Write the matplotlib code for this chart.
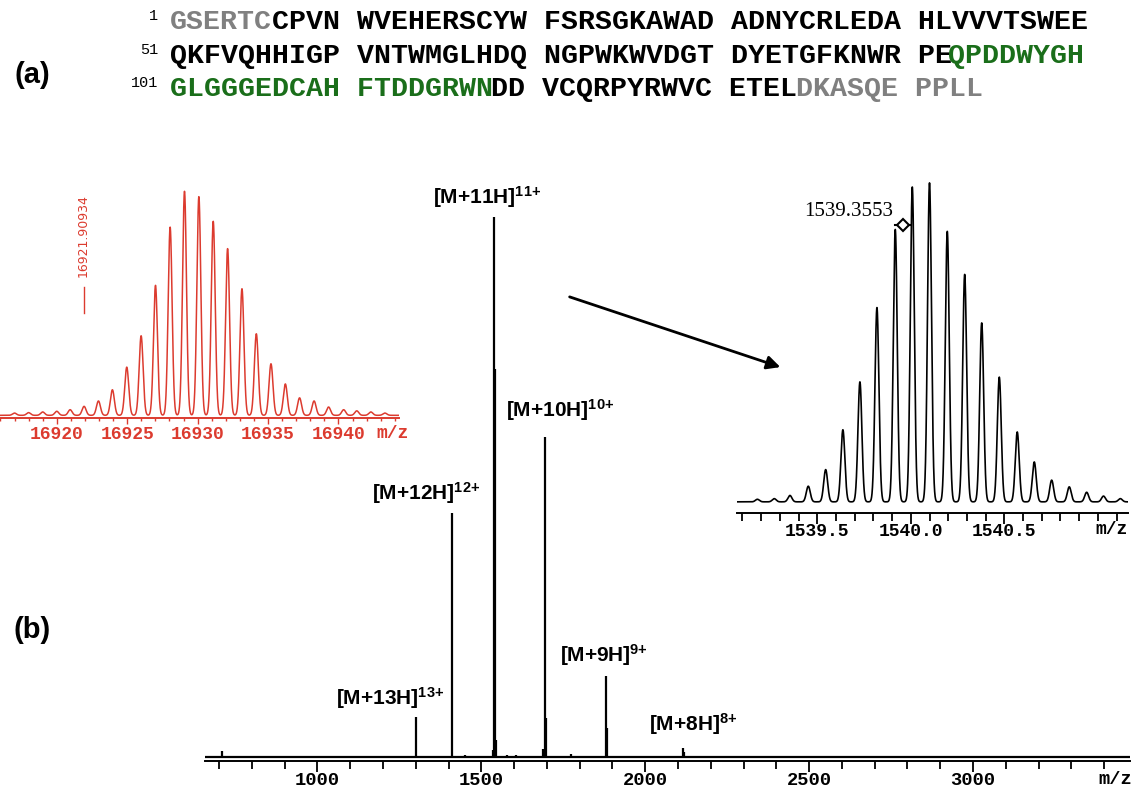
import matplotlib
matplotlib.use("Agg")
import matplotlib.pyplot as plt
import numpy as np
from matplotlib.lines import Line2D

W, H = 1134, 791

plt.rcParams['mathtext.fontset'] = 'custom'
plt.rcParams['mathtext.rm'] = 'Liberation Sans:bold'
plt.rcParams['mathtext.bf'] = 'Liberation Sans:bold'
plt.rcParams['mathtext.default'] = 'bf'

RED = '#dc3b2f'
GREEN = '#1a6e1a'
GRAY = '#808080'
MONO = 'Liberation Mono'
SANS = 'Liberation Sans'

# (a) protein sequence, split into coloured segments
seq_rows = [
    [("GSERTC", GRAY), ("CPVN WVEHERSCYW FSRSGKAWAD ADNYCRLEDA HLVVVTSWEE", "black")],
    [("QKFVQHHIGP VNTWMGLHDQ NGPWKWVDGT DYETGFKNWR PE", "black"), ("QPDDWYGH", GREEN)],
    [("GLGGGEDCAH FTDDGRWN", GREEN), ("DD VCQRPYRWVC ETEL", "black"), ("DKASQE PPLL", GRAY)],
]
seq_numbers = ["1", "51", "101"]

# (b) full ESI spectrum (stick peaks, relative intensity)
main_mz = [708, 1302, 1407, 1411, 1450, 1535, 1539, 1542, 1546, 1578, 1605,
           1689, 1693, 1696, 1775, 1878, 1881, 1884, 2116, 2119]
main_int = [1.3, 7.6, 0.4, 45.3, 0.5, 1.5, 100, 71.9, 3.3, 0.5, 0.5,
            1.7, 59.3, 7.4, 0.8, 0.4, 15.2, 5.5, 1.8, 1.1]
main_ticks = [1000, 1500, 2000, 2500, 3000]

charge_labels = ["[M+13H]$^{13{+}}$", "[M+12H]$^{12{+}}$", "[M+11H]$^{11{+}}$",
                 "[M+10H]$^{10{+}}$", "[M+9H]$^{9{+}}$", "[M+8H]$^{8{+}}$"]
charge_label_px = [(390, 698), (426, 493), (487, 197), (560, 410), (604, 655), (693, 724)]

# deconvoluted isotope envelope (red inset)
deconv_mz = [16917.0, 16918.0, 16919.0, 16920.0, 16920.95, 16921.94, 16922.96, 16923.95,
             16924.97, 16925.99, 16927.01, 16928.05, 16929.07, 16930.09, 16931.11, 16932.13,
             16933.15, 16934.17, 16935.21, 16936.23, 16937.24, 16938.27, 16939.30, 16940.37,
             16941.3, 16942.3, 16943.3]
deconv_int = [0.010, 0.012, 0.015, 0.018, 0.025, 0.040, 0.064, 0.114,
              0.215, 0.355, 0.580, 0.840, 1.000, 0.976, 0.866, 0.744,
              0.565, 0.364, 0.230, 0.140, 0.078, 0.064, 0.037, 0.025,
              0.020, 0.015, 0.010]
deconv_ticks = [16920, 16925, 16930, 16935, 16940]
deconv_mono = 16921.90934

# 11+ isotope cluster (black inset)
iso_mz = [1539.18, 1539.27, 1539.354, 1539.452, 1539.545, 1539.637, 1539.728, 1539.819,
          1539.917, 1540.008, 1540.100, 1540.195, 1540.288, 1540.379, 1540.473,
          1540.569, 1540.660, 1540.753, 1540.847, 1540.94, 1541.03, 1541.12]
iso_int = [0.008, 0.010, 0.020, 0.049, 0.101, 0.226, 0.376, 0.609,
           0.854, 0.987, 1.000, 0.848, 0.713, 0.561, 0.391,
           0.219, 0.125, 0.068, 0.047, 0.030, 0.018, 0.010]
iso_ticks = [1539.5, 1540.0, 1540.5]
iso_label = "1539.3553"


def px(x, y):
    return x / W, 1 - y / H


def rect(x0, y0, x1, y1):
    return [x0 / W, 1 - y1 / H, (x1 - x0) / W, (y1 - y0) / H]


def profile(x, mz, inten, sigma):
    y = np.zeros_like(x)
    for m, i in zip(mz, inten):
        y += i * np.exp(-0.5 * ((x - m) / sigma) ** 2)
    return y


def clean_axes(ax, color):
    ax.patch.set_visible(False)
    for s in ['left', 'right', 'top']:
        ax.spines[s].set_visible(False)
    ax.spines['bottom'].set_color(color)
    ax.set_yticks([])


fig = plt.figure(figsize=(W / 100, H / 100), dpi=100)

# ---- (a) sequence
SEQ_FS = 20.3
cw = 0.6 * SEQ_FS * 100 / 72
row_y = [22, 56, 89]
for r, segs in enumerate(seq_rows):
    col = 0
    for txt, c in segs:
        fig.text(*px(170 + col * cw, row_y[r]), txt, color=c, family=MONO,
                 weight='bold', fontsize=SEQ_FS, ha='left', va='center')
        col += len(txt)
    fig.text(*px(158, row_y[r] - 6), seq_numbers[r], family=MONO,
             fontsize=11, ha='right', va='center')

fig.text(*px(32, 75), "(a)", family=SANS, weight='bold', fontsize=21, ha='center', va='center')
fig.text(*px(32, 630), "(b)", family=SANS, weight='bold', fontsize=21, ha='center', va='center')

# ---- (b) main spectrum
ax = fig.add_axes(rect(205, 180, 1130, 761))
clean_axes(ax, 'black')
ax.set_xlim(657, 3479)
ax.set_ylim(-0.55, 106.8)
ax.vlines(main_mz, 0, main_int, color='black', lw=1.6)
ax.plot([657, 3479], [0.25, 0.25], color='black', lw=1.6)
ax.spines['bottom'].set_linewidth(1.4)
ax.set_xticks(main_ticks)
ax.set_xticks(np.arange(700, 3479, 100), minor=True)
ax.tick_params(axis='x', which='major', length=8, width=1.3, pad=0, labelsize=13.5)
ax.tick_params(axis='x', which='minor', length=6, width=1.3)
for lbl in ax.get_xticklabels():
    lbl.set_family(MONO)
    lbl.set_weight('bold')
fig.text(*px(1115, 779), "m/z", family=MONO, weight='bold', fontsize=13.5, ha='center', va='center')

for lab, (lx, ly) in zip(charge_labels, charge_label_px):
    fig.text(*px(lx, ly), lab, family=SANS, weight='bold', fontsize=15, ha='center', va='center')

# arrow from main peak to zoomed cluster
ax.annotate('', xy=(783, H - 368), xytext=(567, H - 296),
            xycoords='figure pixels', textcoords='figure pixels',
            arrowprops=dict(arrowstyle='-|>', lw=2, color='black', mutation_scale=20))

# ---- red inset: deconvoluted mass
axl = fig.add_axes(rect(0, 185, 399, 418))
clean_axes(axl, RED)
axl.set_xlim(16915.97, 16944.3)
axl.set_ylim(0, 1.04)
xl = np.linspace(16915.97, 16944.3, 5000)
axl.plot(xl, profile(xl, deconv_mz, deconv_int, 0.14) + 0.012, color=RED, lw=1.1)
axl.spines['bottom'].set_linewidth(1.4)
axl.set_xticks(deconv_ticks)
axl.set_xticks(np.arange(16916, 16945, 1), minor=True)
axl.tick_params(axis='x', which='major', length=4, width=1, color=RED, labelcolor=RED,
                pad=2, labelsize=13)
axl.tick_params(axis='x', which='minor', length=2, width=1, color=RED)
for lbl in axl.get_xticklabels():
    lbl.set_family(MONO)
    lbl.set_weight('bold')
fig.text(*px(393, 434), "m/z", family=MONO, weight='bold', fontsize=13, color=RED,
         ha='center', va='center')
axl.plot([deconv_mono, deconv_mono], [0.47, 0.585], color=RED, lw=1)
axl.text(deconv_mono, 0.815, "%.5f" % deconv_mono, rotation=90, color=RED,
         fontsize=9, family='DejaVu Sans', ha='center', va='center')

# ---- black inset: 11+ isotope cluster
axr = fig.add_axes(rect(737, 180, 1128, 513))
clean_axes(axr, 'black')
axr.set_xlim(1539.071, 1541.161)
axr.set_ylim(-0.025, 1.019)
xr = np.linspace(1539.071, 1541.161, 5000)
axr.plot(xr, profile(xr, iso_mz, iso_int, 0.0105) + 0.01, color='black', lw=1.2)
axr.spines['bottom'].set_linewidth(1.4)
axr.set_xticks(iso_ticks)
axr.set_xticklabels(["%.1f" % t for t in iso_ticks])
axr.set_xticks(np.arange(1539.1, 1541.16, 0.1), minor=True)
axr.tick_params(axis='x', which='major', length=8, width=1.3, pad=-1, labelsize=13)
axr.tick_params(axis='x', which='minor', length=6, width=1.3)
for lbl in axr.get_xticklabels():
    lbl.set_family(MONO)
    lbl.set_weight('bold')
fig.text(*px(1112, 529), "m/z", family=MONO, weight='bold', fontsize=13, ha='center', va='center')

fig.text(*px(849, 212), iso_label, family='Liberation Serif', fontsize=15, ha='center', va='center')
fig.add_artist(Line2D([895 / W, 910 / W], [1 - 225 / H, 1 - 225 / H], color='black', lw=1.5))
fig.add_artist(Line2D([902.5 / W], [1 - 225 / H], marker='D', markersize=6,
                      mfc='white', mec='black', mew=1.5))

fig.savefig("out.png", dpi=100)
